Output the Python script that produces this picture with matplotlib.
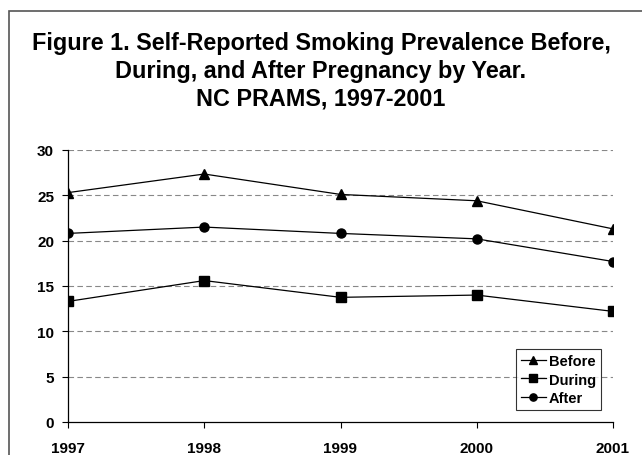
import matplotlib.pyplot as plt
from matplotlib.patches import Rectangle

# Smoking prevalence (%) by survey year
years = ["1997", "1998", "1999", "2000", "2001"]
before = [25.3, 27.35, 25.1, 24.4, 21.3]
during = [13.3, 15.6, 13.75, 14.0, 12.2]
after = [20.8, 21.5, 20.8, 20.2, 17.7]

plt.rcParams["font.family"] = ["Liberation Sans", "DejaVu Sans"]
plt.rcParams["font.weight"] = "bold"

fig = plt.figure(figsize=(6.42, 4.56), dpi=100)
ax = fig.add_axes([68 / 642, 1 - 423 / 456, 545 / 642, 272 / 456])

# outer frame
fig.patches.append(Rectangle((9 / 642, -0.1), 1.2, 1 - 12 / 456 + 0.1,
                             transform=fig.transFigure, fill=False,
                             edgecolor="#555555", linewidth=1.2))

fig.text(0.5, 1 - 32 / 456,
         "Figure 1. Self-Reported Smoking Prevalence Before,\n"
         "During, and After Pregnancy by Year.\n"
         "NC PRAMS, 1997-2001",
         ha="center", va="top", fontsize=16.8, fontweight="bold",
         linespacing=1.27, transform=fig.transFigure)

x = list(range(len(years)))
ax.plot(x, before, color="black", lw=0.9, marker="^", ms=7, label="Before")
ax.plot(x, during, color="black", lw=0.9, marker="s", ms=7, label="During")
ax.plot(x, after, color="black", lw=0.9, marker="o", ms=6.5, label="After")

ax.set_xlim(0, len(years) - 1)
ax.set_ylim(0, 30)
ax.set_yticks(range(0, 31, 5))
ax.set_xticks(x)
ax.set_xticklabels(years)
for y in range(5, 31, 5):
    ax.axhline(y, color="#888888", lw=0.8, ls=(0, (5, 3)), zorder=0)

for s in ["top", "right"]:
    ax.spines[s].set_visible(False)
ax.spines["left"].set_linewidth(0.9)
ax.spines["bottom"].set_linewidth(0.9)
ax.tick_params(axis="y", direction="out", length=4, labelsize=11, pad=6)
ax.tick_params(axis="x", direction="out", length=4, labelsize=11, pad=10)
for lbl in ax.get_xticklabels() + ax.get_yticklabels():
    lbl.set_fontweight("bold")

leg = ax.legend(loc="lower right", bbox_to_anchor=(533 / 545, 12 / 272),
                fontsize=10.5, frameon=True, fancybox=False, edgecolor="black",
                handlelength=1.7, handletextpad=0.2, borderpad=0.35,
                labelspacing=0.3, markerscale=0.8, borderaxespad=0)
leg.get_frame().set_linewidth(0.8)
for t in leg.get_texts():
    t.set_fontweight("bold")

fig.savefig("out.png", dpi=100)
